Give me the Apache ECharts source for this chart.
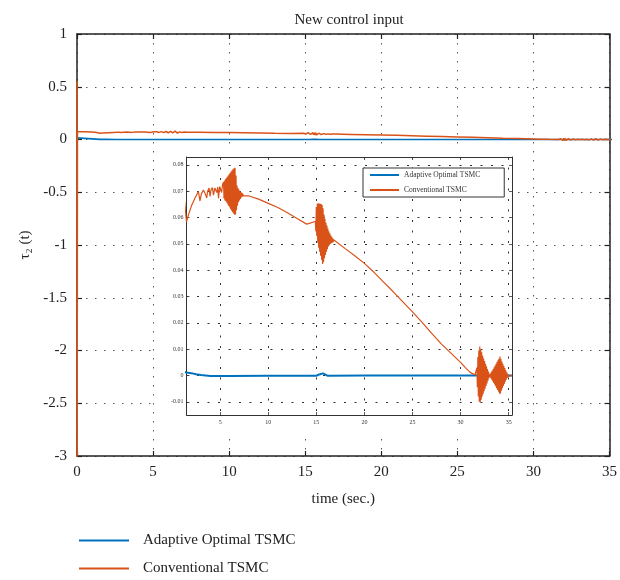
<!DOCTYPE html>
<html>
<head>
<meta charset="utf-8">
<script src="https://cdn.jsdelivr.net/npm/echarts@6/dist/echarts.min.js"></script>
<style>
  html, body { margin: 0; padding: 0; background: #fff; }
  #chart { width: 620px; height: 580px; }
</style>
</head>
<body>
<div id="chart"></div>
<script>
const seriesNames = ["Adaptive Optimal TSMC", "Conventional TSMC"];
const insetXTicks = [5, 10, 15, 20, 25, 30, 35];
const insetYTicks = [-0.01, 0, 0.01, 0.02, 0.03, 0.04, 0.05, 0.06, 0.07, 0.08];

// adaptive optimal TSMC
const adaptiveU = [
  [0, 0.015], [0.05, 0.003], [1.5, 0.0011], [2, 0.0009], [2.5, 0.0005], [3, 0.0002],
  [3.5, 0], [4, -0.0002], [6, -0.0002], [10, -0.0001], [15, -0.0001], [15.3, 0.0004],
  [15.5, 0.0011], [15.7, 0.0008], [15.9, 0.0001], [16.2, -0.0001], [20, 0], [35.35, 0]
];

// conventional TSMC, piece by piece
const convSpike = [[0, 0.55], [0.01, -3.2], [0.03, 0.074]];
const convHead = [
  [0.5, 0.073], [1.0, 0.071], [1.3, 0.066], [1.5, 0.0584], [1.7, 0.061], [2.05, 0.0648],
  [2.4, 0.0675], [2.74, 0.0699], [2.9, 0.0663], [3.05, 0.069], [3.26, 0.0705], [3.45, 0.069],
  [3.6, 0.0675], [3.7, 0.07], [3.85, 0.0712], [3.95, 0.068], [4.05, 0.0705], [4.2, 0.0714],
  [4.3, 0.0685], [4.45, 0.0712], [4.55, 0.0717], [4.65, 0.0695], [4.75, 0.0716], [4.83, 0.0673],
  [4.95, 0.0718], [5.05, 0.0724], [5.15, 0.0695], [5.25, 0.0725]
];
const convBurstA = [
  [5.35, 0.0735], [5.40, 0.0672], [5.45, 0.0740], [5.50, 0.0665], [5.55, 0.0745], [5.60, 0.0662],
  [5.65, 0.0750], [5.70, 0.0656], [5.75, 0.0755], [5.80, 0.0650], [5.85, 0.0760], [5.90, 0.0644],
  [5.95, 0.0765], [6.00, 0.0638], [6.05, 0.0770], [6.10, 0.0632], [6.15, 0.0775], [6.20, 0.0626],
  [6.25, 0.0780], [6.30, 0.0620], [6.35, 0.0784], [6.40, 0.0615], [6.45, 0.0787], [6.50, 0.0611],
  [6.55, 0.0789], [6.60, 0.0612], [6.65, 0.0760], [6.70, 0.0628], [6.75, 0.0722], [6.80, 0.0645],
  [6.85, 0.0712], [6.90, 0.0658], [6.95, 0.0706], [7.00, 0.0665], [7.05, 0.0701], [7.10, 0.0671],
  [7.15, 0.0697], [7.20, 0.0676], [7.25, 0.0694], [7.30, 0.0679], [7.35, 0.0691], [7.40, 0.0682],
  [7.45, 0.0689], [7.50, 0.0684], [7.55, 0.0687], [7.60, 0.0685]
];
const convMid = [
  [8, 0.0682], [9, 0.067], [10, 0.0654], [11, 0.0638], [12, 0.0618], [13, 0.0596], [14, 0.0575]
];
const convBurstB = [
  [14.90, 0.0585], [14.95, 0.0548], [15.00, 0.0640], [15.05, 0.0530], [15.10, 0.0652], [15.15, 0.0505],
  [15.20, 0.0654], [15.25, 0.0485], [15.30, 0.0653], [15.35, 0.0470], [15.40, 0.0652], [15.45, 0.0455],
  [15.50, 0.0651], [15.55, 0.0440], [15.60, 0.0648], [15.65, 0.0424], [15.70, 0.0635], [15.75, 0.0430],
  [15.80, 0.0612], [15.85, 0.0445], [15.90, 0.0595], [15.95, 0.0458], [16.00, 0.0580], [16.05, 0.0470],
  [16.10, 0.0570], [16.15, 0.0480], [16.20, 0.0558], [16.25, 0.0490], [16.30, 0.0548], [16.35, 0.0495],
  [16.40, 0.0540], [16.45, 0.0500], [16.50, 0.0533], [16.55, 0.0503], [16.60, 0.0527], [16.65, 0.0505],
  [16.70, 0.0521], [16.75, 0.0507], [16.80, 0.0516], [16.85, 0.0509], [16.90, 0.0512]
];
const convTail = [
  [17, 0.0512], [18, 0.0482], [19, 0.0455], [20, 0.0426], [21, 0.0392], [22, 0.0355], [23, 0.0318],
  [24, 0.028], [25, 0.0242], [26, 0.0202], [27, 0.016], [28, 0.012], [29, 0.0085], [30, 0.005],
  [30.5, 0.003], [31, 0.0012], [31.5, 0.0002]
];
const convBurstC = [
  [31.65, 0.0000], [31.70, 0.0030], [31.75, -0.0045], [31.80, 0.0070], [31.85, -0.0080], [31.90, 0.0095],
  [31.95, -0.0100], [32.00, 0.0110], [32.05, -0.0102], [32.10, 0.0100], [32.15, -0.0092], [32.20, 0.0088],
  [32.25, -0.0080], [32.30, 0.0075], [32.35, -0.0070], [32.40, 0.0065], [32.45, -0.0060], [32.50, 0.0055],
  [32.55, -0.0050], [32.60, 0.0045], [32.65, -0.0040], [32.70, 0.0035], [32.75, -0.0030], [32.80, 0.0025],
  [32.85, -0.0020], [32.90, 0.0015], [32.95, -0.0010], [33.00, 0.0006], [33.05, -0.0003], [33.10, 0.0006],
  [33.15, -0.0010], [33.20, 0.0013], [33.25, -0.0016], [33.30, 0.0019], [33.35, -0.0022], [33.40, 0.0025],
  [33.45, -0.0028], [33.50, 0.0031], [33.55, -0.0034], [33.60, 0.0038], [33.65, -0.0041], [33.70, 0.0045],
  [33.75, -0.0048], [33.80, 0.0052], [33.85, -0.0055], [33.90, 0.0058], [33.95, -0.0062], [34.00, 0.0065],
  [34.05, -0.0069], [34.10, 0.0072], [34.15, -0.0068], [34.20, 0.0063], [34.25, -0.0058], [34.30, 0.0053],
  [34.35, -0.0048], [34.40, 0.0045], [34.45, -0.0040], [34.50, 0.0036], [34.55, -0.0032], [34.60, 0.0028],
  [34.65, -0.0024], [34.70, 0.0020], [34.75, -0.0016], [34.80, 0.0012], [34.85, -0.0009], [34.90, 0.0006],
  [34.95, -0.0003], [35.00, 0.0002], [35.35, 0.0000]
];
const conventionalU = [].concat(convSpike, convHead, convBurstA, convMid, convBurstB, convTail, convBurstC);

const serif = "'Liberation Serif', 'DejaVu Serif', serif";
const blue = "#0072BD";
const orange = "#D95319";

const chart = echarts.init(document.getElementById("chart"));

const frameAxis = (extra) => Object.assign({
  type: "value",
  axisLine: { show: true, onZero: false, lineStyle: { color: "#222", width: 1.5 } },
  axisTick: { show: true, inside: true, length: 5, lineStyle: { color: "#222", width: 1.2 } },
  axisLabel: { show: false },
  splitLine: { show: false },
}, extra);

const insetAxis = (extra) => Object.assign({
  type: "value",
  z: 8,
  axisLine: { show: true, onZero: false, lineStyle: { color: "#333", width: 1 } },
  axisTick: { show: true, inside: true, length: 3, lineStyle: { color: "#333", width: 0.8 } },
  axisLabel: { show: false },
  splitLine: { show: false },
}, extra);

const option = {
  animation: false,
  backgroundColor: "#fff",
  title: {
    text: "New control input",
    left: 344,
    top: 8,
    textAlign: "center",
    textStyle: { fontFamily: serif, fontSize: 15, fontWeight: "normal", color: "#222" },
  },
  graphic: [{
    type: "rect",
    z: 5,
    shape: { x: 157, y: 150, width: 359, height: 283 },
    style: { fill: "#fff" },
  }],
  legend: [
    {
      data: seriesNames,
      orient: "vertical",
      left: 78,
      top: 533,
      padding: 0,
      itemWidth: 50,
      itemHeight: 14,
      itemGap: 13,
      itemStyle: { opacity: 0 },
      textStyle: { fontFamily: serif, fontSize: 15, color: "#222", padding: [0, 0, 0, 9] },
    },
    {
      data: seriesNames,
      orient: "vertical",
      left: 363,
      top: 168,
      z: 10,
      backgroundColor: "#fff",
      borderColor: "#333",
      borderWidth: 1,
      padding: [3, 24, 3, 6],
      itemWidth: 29,
      itemHeight: 7,
      itemGap: 7,
      itemStyle: { opacity: 0 },
      textStyle: { fontFamily: serif, fontSize: 7.5, color: "#333" },
    },
  ],
  grid: [
    { left: 77, right: 10, top: 34, bottom: 124 },
    { left: 186.5, right: 108, top: 157, bottom: 165, show: true, z: 6, backgroundColor: "#fff", borderWidth: 0 },
  ],
  xAxis: [
    frameAxis({
      gridIndex: 0, min: 0, max: 35, interval: 5, position: "bottom",
      axisLabel: { show: true, margin: 9, fontFamily: serif, fontSize: 15, color: "#222" },
      splitLine: { show: true, lineStyle: { color: "#555", width: 1, type: [1.5, 7.5] } },
      name: "time (sec.)", nameLocation: "middle", nameGap: 36,
      nameTextStyle: { fontFamily: serif, fontSize: 15, color: "#222" },
    }),
    frameAxis({ gridIndex: 0, min: 0, max: 35, interval: 5, position: "top" }),
    insetAxis({
      gridIndex: 1, min: 1.5, max: 35.35, position: "bottom",
      axisTick: { show: true, inside: true, length: 3, customValues: insetXTicks, lineStyle: { color: "#333", width: 0.8 } },
      axisLabel: { show: true, margin: 4, customValues: insetXTicks, fontFamily: serif, fontSize: 6, color: "#333" },
      splitLine: { show: true, lineStyle: { color: "#333", width: 1, type: [2, 8.5] } },
    }),
    insetAxis({
      gridIndex: 1, min: 1.5, max: 35.35, position: "top",
      axisTick: { show: true, inside: true, length: 3, customValues: insetXTicks, lineStyle: { color: "#333", width: 0.8 } },
    }),
  ],
  yAxis: [
    frameAxis({
      gridIndex: 0, min: -3, max: 1, interval: 0.5, position: "left",
      axisLabel: { show: true, margin: 10, fontFamily: serif, fontSize: 15, color: "#222" },
      splitLine: { show: true, lineStyle: { color: "#555", width: 1, type: [1.5, 7.5] } },
      name: "τ₂ (t)", nameLocation: "middle", nameGap: 44, nameRotate: 90,
      nameTextStyle: { fontFamily: serif, fontSize: 15, color: "#222" },
    }),
    frameAxis({ gridIndex: 0, min: -3, max: 1, interval: 0.5, position: "right" }),
    insetAxis({
      gridIndex: 1, min: -0.015, max: 0.083, position: "left",
      axisTick: { show: true, inside: true, length: 3, customValues: insetYTicks, lineStyle: { color: "#333", width: 0.8 } },
      axisLabel: {
        show: true, margin: 3, customValues: insetYTicks, fontFamily: serif, fontSize: 6, color: "#333",
        formatter: (v) => (Math.abs(v) < 1e-9 ? "0" : v.toFixed(2)),
      },
      splitLine: { show: true, lineStyle: { color: "#333", width: 1, type: [2, 8.5] } },
    }),
    insetAxis({
      gridIndex: 1, min: -0.015, max: 0.083, position: "right",
      axisTick: { show: true, inside: true, length: 3, customValues: insetYTicks, lineStyle: { color: "#333", width: 0.8 } },
    }),
  ],
  series: [
    {
      name: seriesNames[0], type: "line", xAxisIndex: 0, yAxisIndex: 0,
      data: adaptiveU, symbol: "none", z: 2,
      lineStyle: { color: blue, width: 1.6 }, itemStyle: { color: blue },
    },
    {
      name: seriesNames[1], type: "line", xAxisIndex: 0, yAxisIndex: 0,
      data: conventionalU, symbol: "none", z: 2,
      lineStyle: { color: orange, width: 1.5 }, itemStyle: { color: orange },
    },
    {
      name: seriesNames[0], type: "line", xAxisIndex: 2, yAxisIndex: 2,
      data: adaptiveU, symbol: "none", z: 9,
      lineStyle: { color: blue, width: 2 }, itemStyle: { color: blue },
    },
    {
      name: seriesNames[1], type: "line", xAxisIndex: 2, yAxisIndex: 2,
      data: conventionalU, symbol: "none", z: 9,
      lineStyle: { color: orange, width: 1.2 }, itemStyle: { color: orange },
    },
  ],
};

chart.setOption(option);
window.addEventListener("resize", () => chart.resize());
</script>
</body>
</html>
